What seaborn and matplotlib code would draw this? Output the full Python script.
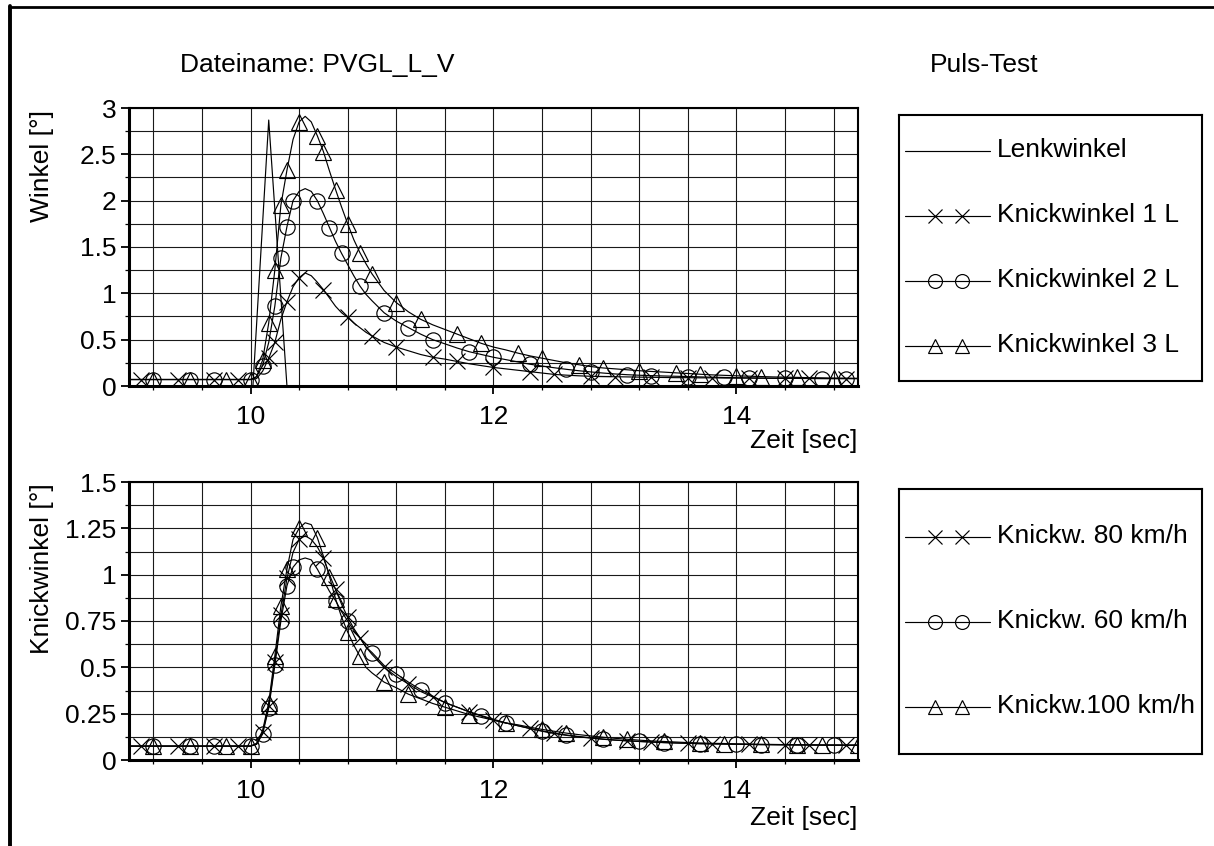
import matplotlib
matplotlib.use("Agg")
import matplotlib.pyplot as plt
from matplotlib.lines import Line2D
from matplotlib.ticker import FixedLocator, FuncFormatter
import pandas as pd
import seaborn as sns

# ---------------------------------------------------------------- data
zeit = [9.0, 9.1, 9.2, 9.3, 9.4, 9.5, 9.6, 9.7, 9.8, 9.9,
        10.0, 10.05, 10.1, 10.15, 10.2, 10.25, 10.3, 10.35, 10.4, 10.45,
        10.5, 10.55, 10.6, 10.65, 10.7, 10.75, 10.8, 10.85, 10.9, 10.95,
        11.0, 11.1, 11.2, 11.3, 11.4, 11.5, 11.6, 11.7, 11.8, 11.9,
        12.0, 12.1, 12.2, 12.3, 12.4, 12.5, 12.6, 12.7, 12.8, 12.9,
        13.0, 13.1, 13.2, 13.3, 13.4, 13.5, 13.6, 13.7, 13.8, 13.9,
        14.0, 14.1, 14.2, 14.3, 14.4, 14.5, 14.6, 14.7, 14.8, 14.9, 15.0]

# steering angle pulse
lenk_zeit = [9.0, 10.02, 10.15, 10.30, 15.0]
lenkwinkel = [0.0, 0.0, 2.87, 0.0, 0.0]

# articulation angles, upper panel
knick_1l = [0.07, 0.07, 0.07, 0.07, 0.07, 0.07, 0.07, 0.07, 0.07, 0.07,
            0.07, 0.08, 0.16, 0.30, 0.47, 0.72, 0.91, 1.07, 1.17, 1.22,
            1.19, 1.12, 1.04, 0.95, 0.86, 0.79, 0.74, 0.68, 0.63, 0.58,
            0.54, 0.47, 0.42, 0.38, 0.34, 0.31, 0.29, 0.265, 0.24, 0.22,
            0.20, 0.185, 0.17, 0.155, 0.14, 0.125, 0.117, 0.11, 0.105, 0.102,
            0.10, 0.098, 0.096, 0.094, 0.092, 0.09, 0.09, 0.088, 0.088, 0.086,
            0.085, 0.085, 0.084, 0.083, 0.082, 0.082, 0.081, 0.081, 0.08, 0.08, 0.08]
knick_2l = [0.07, 0.07, 0.07, 0.07, 0.07, 0.07, 0.07, 0.07, 0.07, 0.07,
            0.07, 0.10, 0.22, 0.47, 0.86, 1.38, 1.72, 2.00, 2.10, 2.13,
            2.10, 2.00, 1.86, 1.71, 1.56, 1.43, 1.31, 1.19, 1.08, 0.99,
            0.92, 0.79, 0.70, 0.63, 0.56, 0.50, 0.455, 0.41, 0.37, 0.34,
            0.31, 0.285, 0.26, 0.235, 0.215, 0.197, 0.18, 0.165, 0.152, 0.14,
            0.13, 0.122, 0.116, 0.112, 0.108, 0.105, 0.102, 0.098, 0.095, 0.092,
            0.09, 0.088, 0.086, 0.084, 0.083, 0.082, 0.081, 0.08, 0.08, 0.08, 0.08]
knick_3l = [0.07, 0.07, 0.07, 0.07, 0.07, 0.07, 0.07, 0.07, 0.07, 0.07,
            0.07, 0.10, 0.28, 0.68, 1.25, 1.95, 2.33, 2.66, 2.85, 2.91,
            2.85, 2.70, 2.53, 2.32, 2.12, 1.93, 1.75, 1.58, 1.44, 1.32,
            1.21, 1.03, 0.90, 0.80, 0.72, 0.66, 0.61, 0.56, 0.51, 0.46,
            0.42, 0.39, 0.355, 0.325, 0.30, 0.275, 0.25, 0.23, 0.21, 0.195,
            0.185, 0.175, 0.165, 0.157, 0.15, 0.142, 0.135, 0.127, 0.12, 0.115,
            0.11, 0.106, 0.102, 0.098, 0.095, 0.093, 0.09, 0.088, 0.086, 0.085, 0.083]

# articulation angle at three speeds, lower panel
knickw_80 = [0.075, 0.075, 0.075, 0.075, 0.075, 0.075, 0.075, 0.075, 0.075, 0.075,
             0.075, 0.085, 0.15, 0.29, 0.53, 0.78, 0.98, 1.12, 1.19, 1.21,
             1.19, 1.15, 1.09, 1.00, 0.92, 0.84, 0.77, 0.71, 0.66, 0.61,
             0.57, 0.50, 0.45, 0.41, 0.37, 0.34, 0.31, 0.285, 0.26, 0.237,
             0.215, 0.20, 0.185, 0.17, 0.157, 0.145, 0.135, 0.127, 0.12, 0.113,
             0.108, 0.104, 0.10, 0.097, 0.094, 0.092, 0.09, 0.088, 0.087, 0.086,
             0.085, 0.084, 0.083, 0.083, 0.082, 0.082, 0.081, 0.081, 0.08, 0.08, 0.08]
knickw_60 = [0.075, 0.075, 0.075, 0.075, 0.075, 0.075, 0.075, 0.075, 0.075, 0.075,
             0.075, 0.085, 0.14, 0.28, 0.51, 0.75, 0.94, 1.04, 1.08, 1.09,
             1.08, 1.03, 0.97, 0.91, 0.86, 0.80, 0.75, 0.70, 0.66, 0.61,
             0.58, 0.51, 0.465, 0.42, 0.38, 0.345, 0.31, 0.285, 0.26, 0.24,
             0.22, 0.20, 0.185, 0.17, 0.155, 0.143, 0.133, 0.125, 0.118, 0.112,
             0.107, 0.103, 0.10, 0.097, 0.094, 0.092, 0.09, 0.088, 0.087, 0.086,
             0.085, 0.084, 0.083, 0.082, 0.082, 0.081, 0.081, 0.08, 0.08, 0.08, 0.08]
knickw_100 = [0.075, 0.075, 0.075, 0.075, 0.075, 0.075, 0.075, 0.075, 0.075, 0.075,
              0.075, 0.09, 0.16, 0.31, 0.56, 0.83, 1.03, 1.19, 1.25, 1.28,
              1.27, 1.20, 1.10, 0.99, 0.87, 0.77, 0.69, 0.62, 0.56, 0.50,
              0.47, 0.42, 0.39, 0.355, 0.33, 0.305, 0.285, 0.265, 0.245, 0.23,
              0.215, 0.20, 0.19, 0.177, 0.165, 0.155, 0.145, 0.137, 0.13, 0.123,
              0.117, 0.112, 0.107, 0.103, 0.10, 0.097, 0.094, 0.092, 0.09, 0.089,
              0.087, 0.086, 0.085, 0.084, 0.083, 0.082, 0.082, 0.081, 0.081, 0.08, 0.08]

x_major = [10, 12, 14]
x_grid = [9.2, 9.6, 10.0, 10.4, 10.8, 11.2, 11.6, 12.0, 12.4, 12.8, 13.2,
          13.6, 14.0, 14.4, 14.8]
y_top_major = [0, 0.5, 1, 1.5, 2, 2.5, 3]
y_top_minor = [0.25, 0.75, 1.25, 1.75, 2.25, 2.75]
y_bot_major = [0, 0.25, 0.5, 0.75, 1, 1.25, 1.5]
y_bot_minor = [0.125, 0.375, 0.625, 0.875, 1.125, 1.375]

legend_top = ["Lenkwinkel", "Knickwinkel 1 L", "Knickwinkel 2 L", "Knickwinkel 3 L"]
legend_bot = ["Knickw. 80 km/h", "Knickw. 60 km/h", "Knickw.100 km/h"]

# ---------------------------------------------------------------- style
sns.set_style("ticks")
plt.rcParams["font.family"] = ["Liberation Sans", "DejaVu Sans"]
plt.rcParams.update({
    "font.size": 19,
    "text.color": "black",
    "axes.labelcolor": "black",
    "xtick.color": "black",
    "ytick.color": "black",
    "axes.edgecolor": "black",
})
FS = 19
MS = 11

W, H = 1214, 846
fig = plt.figure(figsize=(W / 100, H / 100), dpi=100)


def px_axes(x0, y0, x1, y1):
    return fig.add_axes([x0 / W, 1 - y1 / H, (x1 - x0) / W, (y1 - y0) / H])


ax1 = px_axes(129, 108, 858, 386)
ax2 = px_axes(129, 482, 858, 760)

df_top = pd.DataFrame({"Zeit": zeit, "K1": knick_1l, "K2": knick_2l, "K3": knick_3l})
df_bot = pd.DataFrame({"Zeit": zeit, "V80": knickw_80, "V60": knickw_60, "V100": knickw_100})
df_lenk = pd.DataFrame({"Zeit": lenk_zeit, "Lenk": lenkwinkel})

STEP = 0.041
line_kw = dict(color="black", linewidth=0.85, errorbar=None, markersize=MS,
               markeredgewidth=0.85, markeredgecolor="black",
               markerfacecolor="none")

sns.lineplot(data=df_lenk, x="Zeit", y="Lenk", ax=ax1, color="black",
             linewidth=0.85, errorbar=None)
sns.lineplot(data=df_top, x="Zeit", y="K1", ax=ax1, marker="x",
             markevery=(0.022, STEP), **line_kw)
sns.lineplot(data=df_top, x="Zeit", y="K2", ax=ax1, marker="o",
             markevery=(0.031, STEP), **line_kw)
sns.lineplot(data=df_top, x="Zeit", y="K3", ax=ax1, marker="^",
             markevery=(0.037, STEP), **line_kw)

sns.lineplot(data=df_bot, x="Zeit", y="V80", ax=ax2, marker="x",
             markevery=(0.022, STEP), **line_kw)
sns.lineplot(data=df_bot, x="Zeit", y="V60", ax=ax2, marker="o",
             markevery=(0.031, STEP), **line_kw)
sns.lineplot(data=df_bot, x="Zeit", y="V100", ax=ax2, marker="^",
             markevery=(0.037, STEP), **line_kw)

fmt = FuncFormatter(lambda v, p: f"{v:g}")
for ax, ymax, ymaj, ymin in [(ax1, 3, y_top_major, y_top_minor),
                             (ax2, 1.5, y_bot_major, y_bot_minor)]:
    ax.set_xlim(9, 15)
    ax.set_ylim(0, ymax)
    ax.xaxis.set_major_locator(FixedLocator(x_major))
    ax.xaxis.set_minor_locator(FixedLocator(x_grid))
    ax.yaxis.set_major_locator(FixedLocator(ymaj))
    ax.yaxis.set_minor_locator(FixedLocator(ymin))
    ax.yaxis.set_major_formatter(fmt)
    ax.set_axisbelow(True)
    ax.grid(True, which="both", color="#1a1a1a", linewidth=0.8)
    ax.set_xlabel("")
    ax.set_ylabel("")
    for side in ("left", "bottom"):
        ax.spines[side].set_linewidth(2.2)
    for side in ("top", "right"):
        ax.spines[side].set_linewidth(1.5)
        ax.spines[side].set_visible(True)
    ax.tick_params(which="major", direction="out", length=6, width=1.3,
                   labelsize=FS, bottom=True, left=True)
    ax.tick_params(which="minor", direction="out", length=3.2, width=0.9,
                   bottom=True, left=True)
    ax.tick_params(axis="x", which="major", pad=7.5)
    ax.tick_params(axis="y", which="major", pad=3.0)

# axis titles
fig.text(42 / W, 1 - 110 / H, "Winkel [°]", rotation=90, ha="center",
         va="top", fontsize=FS)
fig.text(42 / W, 1 - 483 / H, "Knickwinkel [°]", rotation=90, ha="center",
         va="top", fontsize=FS)
fig.text(857 / W, 1 - 441 / H, "Zeit [sec]", ha="right", va="center",
         fontsize=FS)
fig.text(857 / W, 1 - 818 / H, "Zeit [sec]", ha="right", va="center",
         fontsize=FS)

# header texts
fig.text(180 / W, 1 - 72 / H, "Dateiname: PVGL_L_V", ha="left",
         va="baseline", fontsize=FS)
fig.text(930 / W, 1 - 72 / H, "Puls-Test", ha="left", va="baseline",
         fontsize=FS)

# page frame (left and top edge)
fig.add_artist(Line2D([10 / W, 10 / W], [0, 1 - 6 / H], color="black",
                      linewidth=2.8, transform=fig.transFigure))
fig.add_artist(Line2D([10 / W, 1], [1 - 7 / H, 1 - 7 / H], color="black",
                      linewidth=2.0, transform=fig.transFigure))


# legend boxes
def legend_box(x0, y0, x1, y1, labels, markers, rows_px):
    lax = px_axes(x0, y0, x1, y1)
    lax.set_xlim(x0, x1)
    lax.set_ylim(y1, y0)
    lax.set_xticks([])
    lax.set_yticks([])
    for s in lax.spines.values():
        s.set_visible(True)
        s.set_linewidth(1.5)
        s.set_color("black")
    for label, marker, y in zip(labels, markers, rows_px):
        lax.plot([905, 990], [y, y], color="black", linewidth=0.85)
        if marker is not None:
            lax.plot([935, 962], [y, y], linestyle="none", marker=marker,
                     markersize=MS - 1, markeredgewidth=0.85,
                     markeredgecolor="black", markerfacecolor="none")
        lax.text(997, y + 6, label, ha="left", va="baseline", fontsize=FS,
                 clip_on=False)


legend_box(899, 115, 1202, 381, legend_top, [None, "x", "o", "^"],
           [150.7, 215.7, 280.7, 345.7])
legend_box(899, 489, 1202, 754, legend_bot, ["x", "o", "^"],
           [536.7, 621.7, 706.7])

fig.savefig("out.png", dpi=100)
